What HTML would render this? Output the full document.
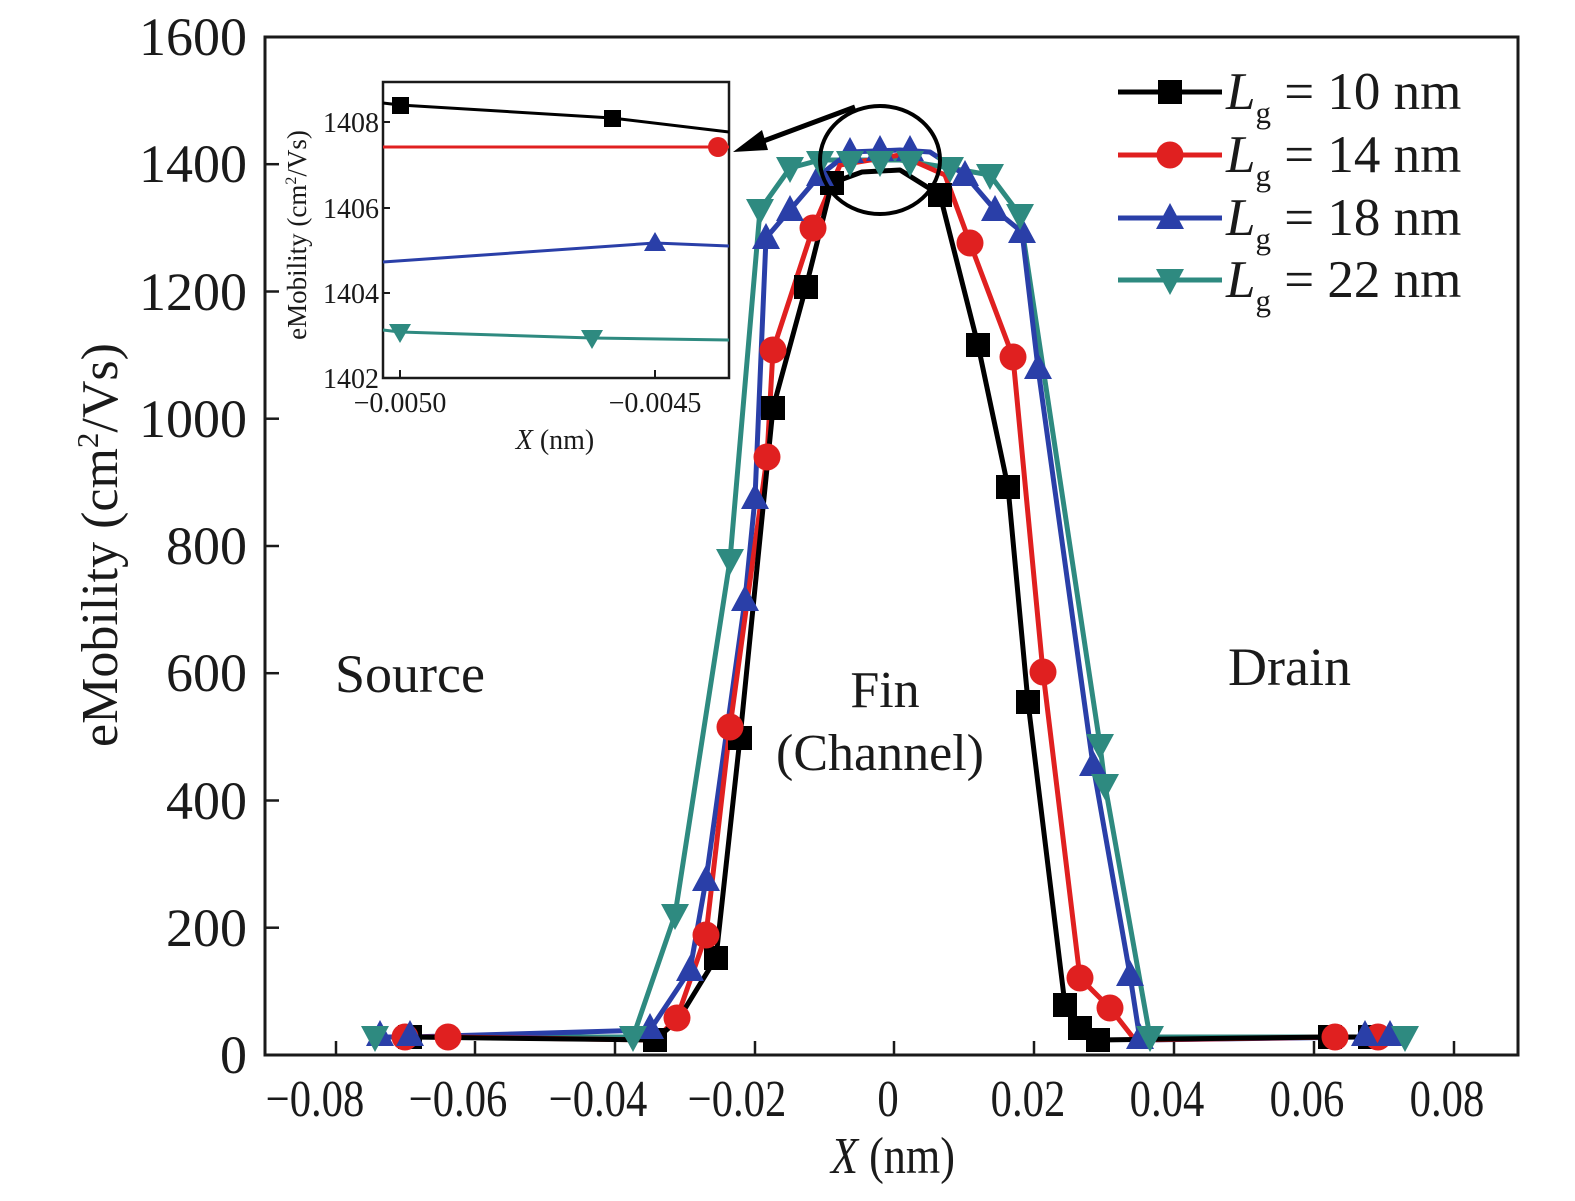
<!DOCTYPE html>
<html><head><meta charset="utf-8"><style>
html,body{margin:0;padding:0;background:#fff;}
svg{display:block;}
text{font-family:"Liberation Serif",serif;fill:#1a1a1a;}
</style></head><body>
<svg width="1575" height="1201" viewBox="0 0 1575 1201" xmlns="http://www.w3.org/2000/svg">
<defs>
<g id="sq"><rect x="-12" y="-12" width="24" height="24" fill="#000"/></g>
<g id="ci"><circle r="13.5" fill="#e02020"/></g>
<g id="tu"><polygon points="0,-15 14,11 -14,11" fill="#2a3fa8"/></g>
<g id="td"><polygon points="0,15 14,-11 -14,-11" fill="#2e8a80"/></g>
</defs>
<rect x="265" y="37" width="1253" height="1018" fill="none" stroke="#1a1a1a" stroke-width="3"/>
<g stroke="#1a1a1a" stroke-width="2.5">
<line x1="336" y1="1055" x2="336" y2="1041"/><line x1="475" y1="1055" x2="475" y2="1041"/>
<line x1="615" y1="1055" x2="615" y2="1041"/><line x1="755" y1="1055" x2="755" y2="1041"/>
<line x1="894" y1="1055" x2="894" y2="1041"/><line x1="1034" y1="1055" x2="1034" y2="1041"/>
<line x1="1174" y1="1055" x2="1174" y2="1041"/><line x1="1314" y1="1055" x2="1314" y2="1041"/>
<line x1="1454" y1="1055" x2="1454" y2="1041"/>
<line x1="265" y1="927.7" x2="279" y2="927.7"/><line x1="265" y1="800.5" x2="279" y2="800.5"/>
<line x1="265" y1="673.2" x2="279" y2="673.2"/><line x1="265" y1="546" x2="279" y2="546"/>
<line x1="265" y1="418.7" x2="279" y2="418.7"/><line x1="265" y1="291.5" x2="279" y2="291.5"/>
<line x1="265" y1="164.2" x2="279" y2="164.2"/>
</g>
<g font-size="54" text-anchor="end">
<text x="247" y="1073">0</text><text x="247" y="946">200</text><text x="247" y="819">400</text>
<text x="247" y="691">600</text><text x="247" y="564">800</text><text x="247" y="437">1000</text>
<text x="247" y="310">1200</text><text x="247" y="182">1400</text><text x="247" y="55">1600</text>
</g>
<g font-size="52" text-anchor="middle">
<text x="315" y="1116" transform="translate(315 0) scale(0.82 1) translate(-315 0)">−0.08</text>
<text x="458" y="1116" transform="translate(458 0) scale(0.82 1) translate(-458 0)">−0.06</text>
<text x="598" y="1116" transform="translate(598 0) scale(0.82 1) translate(-598 0)">−0.04</text>
<text x="737" y="1116" transform="translate(737 0) scale(0.82 1) translate(-737 0)">−0.02</text>
<text x="888" y="1116" transform="translate(888 0) scale(0.82 1) translate(-888 0)">0</text>
<text x="1028" y="1116" transform="translate(1028 0) scale(0.82 1) translate(-1028 0)">0.02</text>
<text x="1167" y="1116" transform="translate(1167 0) scale(0.82 1) translate(-1167 0)">0.04</text>
<text x="1307" y="1116" transform="translate(1307 0) scale(0.82 1) translate(-1307 0)">0.06</text>
<text x="1447" y="1116" transform="translate(1447 0) scale(0.82 1) translate(-1447 0)">0.08</text>
</g>
<text x="893" y="1173" font-size="52" text-anchor="middle" transform="translate(893 0) scale(0.85 1) translate(-893 0)"><tspan font-style="italic">X</tspan> (nm)</text>
<text x="0" y="0" font-size="52" text-anchor="middle" transform="translate(117 545) rotate(-90)">eMobility (cm<tspan font-size="31" dy="-19">2</tspan><tspan dy="19">/Vs)</tspan></text>
<text x="335" y="692" font-size="54">Source</text>
<text x="885" y="707" font-size="52" text-anchor="middle">Fin</text>
<text x="880" y="770" font-size="52" text-anchor="middle">(Channel)</text>
<text x="1228" y="685" font-size="54">Drain</text>

<g fill="none" stroke-width="5" stroke-linejoin="round">
<polyline stroke="#2e8a80" points="375,1037 633,1037 675,915 730,560 760,210 790,168 820,160 860,160 900,160 950,168 990,175 1020,215 1100,745 1105,785 1150,1037 1405,1037"/>
<polyline stroke="#2a3fa8" points="380,1037 410,1037 650,1030 690,970 706,880 745,600 755,498 766,238 790,210 820,175 850,152 900,150 930,152 965,175 995,210 1022,232 1038,368 1093,765 1130,975 1140,1040 1365,1037 1390,1037"/>
<polyline stroke="#e02020" points="405,1037 448,1037 655,1040 677,1018 706,935 730,727 767,457 773,350 813,228 840,165 900,155 945,175 970,243 1013,357 1043,672 1080,978 1110,1008 1135,1040 1335,1037 1378,1037"/>
<polyline stroke="#000" points="410,1037 655,1040 678,1020 716,958 740,738 773,408 806,287 832,183 862,172 900,170 940,195 978,345 1008,487 1028,702 1065,1005 1080,1028 1098,1040 1330,1037 1370,1037"/>
</g>
<g>
<use href="#sq" x="410" y="1037"/><use href="#sq" x="655" y="1040"/><use href="#sq" x="716" y="958"/><use href="#sq" x="740" y="738"/><use href="#sq" x="773" y="408"/><use href="#sq" x="806" y="287"/><use href="#sq" x="832" y="183"/><use href="#sq" x="940" y="195"/><use href="#sq" x="978" y="345"/><use href="#sq" x="1008" y="487"/><use href="#sq" x="1028" y="702"/><use href="#sq" x="1065" y="1005"/><use href="#sq" x="1080" y="1028"/><use href="#sq" x="1098" y="1040"/><use href="#sq" x="1330" y="1037"/><use href="#sq" x="1370" y="1037"/>
<use href="#ci" x="405" y="1037"/><use href="#ci" x="448" y="1037"/><use href="#ci" x="677" y="1018"/><use href="#ci" x="706" y="935"/><use href="#ci" x="730" y="727"/><use href="#ci" x="767" y="457"/><use href="#ci" x="773" y="350"/><use href="#ci" x="813" y="228"/><use href="#ci" x="970" y="243"/><use href="#ci" x="1013" y="357"/><use href="#ci" x="1043" y="672"/><use href="#ci" x="1080" y="978"/><use href="#ci" x="1110" y="1008"/><use href="#ci" x="1335" y="1037"/><use href="#ci" x="1378" y="1037"/>
<use href="#tu" x="380" y="1035"/><use href="#tu" x="410" y="1035"/><use href="#tu" x="650" y="1028"/><use href="#tu" x="690" y="970"/><use href="#tu" x="706" y="880"/><use href="#tu" x="745" y="600"/><use href="#tu" x="755" y="498"/><use href="#tu" x="766" y="238"/><use href="#tu" x="790" y="210"/><use href="#tu" x="820" y="175"/><use href="#tu" x="850" y="152"/><use href="#tu" x="880" y="150"/><use href="#tu" x="910" y="150"/><use href="#tu" x="965" y="175"/><use href="#tu" x="995" y="210"/><use href="#tu" x="1022" y="232"/><use href="#tu" x="1038" y="368"/><use href="#tu" x="1093" y="765"/><use href="#tu" x="1130" y="975"/><use href="#tu" x="1140" y="1038"/><use href="#tu" x="1365" y="1035"/><use href="#tu" x="1390" y="1035"/>
<use href="#td" x="375" y="1037"/><use href="#td" x="633" y="1037"/><use href="#td" x="675" y="915"/><use href="#td" x="730" y="560"/><use href="#td" x="760" y="210"/><use href="#td" x="790" y="168"/><use href="#td" x="820" y="162"/><use href="#td" x="850" y="162"/><use href="#td" x="880" y="162"/><use href="#td" x="910" y="162"/><use href="#td" x="950" y="168"/><use href="#td" x="990" y="175"/><use href="#td" x="1020" y="215"/><use href="#td" x="1100" y="745"/><use href="#td" x="1105" y="785"/><use href="#td" x="1150" y="1037"/><use href="#td" x="1405" y="1037"/>
</g>
<ellipse cx="880" cy="160" rx="60" ry="54" fill="none" stroke="#000" stroke-width="4"/>
<line x1="855" y1="107" x2="750" y2="146" stroke="#000" stroke-width="5"/>
<polygon points="733,152 762,130 768,150" fill="#000"/>

<rect x="383" y="82" width="346" height="296" fill="#fff" stroke="#1a1a1a" stroke-width="2.5"/>
<g fill="none" stroke-width="3">
<polyline stroke="#000" points="383,103 400,105 612,118 729,132"/>
<polyline stroke="#e02020" points="383,147 729,147"/>
<polyline stroke="#2a3fa8" points="383,262 655,243 729,246"/>
<polyline stroke="#2e8a80" points="383,330 400,332 592,338 729,340"/>
</g>
<rect x="392" y="97" width="17" height="17" fill="#000"/><rect x="604" y="110" width="17" height="17" fill="#000"/>
<circle cx="718" cy="147" r="10" fill="#e02020"/>
<polygon points="655,232 666,251 644,251" fill="#2a3fa8"/>
<polygon points="400,343 411,324 389,324" fill="#2e8a80"/><polygon points="592,349 603,330 581,330" fill="#2e8a80"/>
<g stroke="#1a1a1a" stroke-width="2"><line x1="400" y1="378" x2="400" y2="370"/><line x1="655" y1="378" x2="655" y2="370"/>
<line x1="383" y1="122" x2="390" y2="122"/><line x1="383" y1="208" x2="390" y2="208"/><line x1="383" y1="293" x2="390" y2="293"/></g>
<g font-size="28" text-anchor="end">
<text x="379" y="132">1408</text><text x="379" y="218">1406</text><text x="379" y="303">1404</text><text x="379" y="388">1402</text>
</g>
<g font-size="28" text-anchor="middle">
<text x="400" y="412">−0.0050</text><text x="655" y="412">−0.0045</text>
<text x="555" y="449"><tspan font-style="italic">X</tspan> (nm)</text>
</g>
<text x="0" y="0" font-size="27" text-anchor="middle" transform="translate(306 235) rotate(-90)">eMobility (cm<tspan font-size="16" dy="-10">2</tspan><tspan dy="10">/Vs)</tspan></text>

<g stroke-width="5">
<line x1="1118" y1="92" x2="1222" y2="92" stroke="#000"/>
<line x1="1118" y1="155" x2="1222" y2="155" stroke="#e02020"/>
<line x1="1118" y1="218" x2="1222" y2="218" stroke="#2a3fa8"/>
<line x1="1118" y1="280" x2="1222" y2="280" stroke="#2e8a80"/>
</g>
<use href="#sq" x="1170" y="92"/><use href="#ci" x="1170" y="155"/><use href="#tu" x="1170" y="218"/><use href="#td" x="1170" y="280"/>
<g font-size="53">
<text x="1226" y="109"><tspan font-style="italic">L</tspan><tspan font-size="31" dy="14">g</tspan><tspan dy="-14"> = 10 nm</tspan></text>
<text x="1226" y="172"><tspan font-style="italic">L</tspan><tspan font-size="31" dy="14">g</tspan><tspan dy="-14"> = 14 nm</tspan></text>
<text x="1226" y="235"><tspan font-style="italic">L</tspan><tspan font-size="31" dy="14">g</tspan><tspan dy="-14">  = 18 nm</tspan></text>
<text x="1226" y="297"><tspan font-style="italic">L</tspan><tspan font-size="31" dy="14">g</tspan><tspan dy="-14">  = 22 nm</tspan></text>
</g>
</svg>
</body></html>
